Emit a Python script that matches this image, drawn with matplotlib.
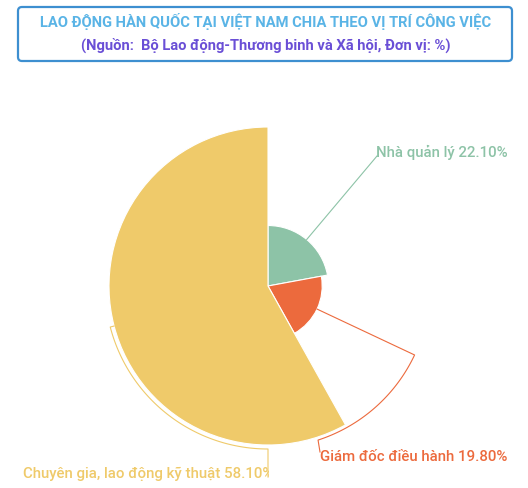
import numpy as np
import matplotlib.pyplot as plt
from matplotlib.patches import Wedge, FancyBboxPatch

plt.rcParams['font.family'] = ['Roboto', 'DejaVu Sans']

# Dữ liệu
nhan = ['Nhà quản lý', 'Giám đốc điều hành', 'Chuyên gia, lao động kỹ thuật']
gia_tri = [22.10, 19.80, 58.10]
mau = ['#8dc3a7', '#ec6a3d', '#efca6a']

W, H = 528, 489
fig = plt.figure(figsize=(W / 100, H / 100), dpi=100)
ax = fig.add_axes([0, 0, 1, 1])
ax.set_xlim(0, W)
ax.set_ylim(0, H)
ax.axis('off')


def py(y):
    # toạ độ pixel (gốc trên) -> toạ độ trục
    return H - y


# Khung tiêu đề
ax.add_patch(FancyBboxPatch((18, py(62)), 494, 54,
                            boxstyle='round,pad=0,rounding_size=4',
                            fc='white', ec='#3d8fd0', lw=1.6))
ax.text(265.5, py(22), 'LAO ĐỘNG HÀN QUỐC TẠI VIỆT NAM CHIA THEO VỊ TRÍ CÔNG VIỆC',
        color='#5ab4e6', fontsize=10.6, fontweight='bold', ha='center', va='center')
ax.text(265.5, py(45), '(Nguồn:  Bộ Lao động-Thương binh và Xã hội, Đơn vị: %)',
        color='#6a4fd6', fontsize=10.6, fontweight='bold', ha='center', va='center')

# Biểu đồ hoa hồng (bán kính tỉ lệ với giá trị)
cx, cy = 268, py(287)
R = 159
tong = sum(gia_tri)
goc = 90.0
giua = []
for v, c in zip(gia_tri, mau):
    quet = v / tong * 360
    r = v / max(gia_tri) * R
    ax.add_patch(Wedge((cx, cy), r, goc - quet, goc, fc=c, ec='white', lw=0.8))
    giua.append((goc - quet / 2, r))
    goc -= quet


def diem(a, r):
    t = np.radians(a)
    return cx + r * np.cos(t), cy + r * np.sin(t)


fs = 10.8

# Nhà quản lý: đường thẳng
a, r = giua[0]
x0, y0 = diem(a, r)
ax.plot([x0, 377], [y0, py(157)], color=mau[0], lw=0.8)
ax.text(376, py(152), f'{nhan[0]} {gia_tri[0]:.2f}%', color=mau[0],
        fontsize=fs, fontweight='medium', ha='left', va='center')

# Giám đốc điều hành: ra ngoài, chạy theo cung tròn rồi xuống
a, r = giua[1]
rr = 162
t = np.linspace(a, -72, 60)
xs = [diem(a, r)[0]] + list(cx + rr * np.cos(np.radians(t))) + [320]
ys = [diem(a, r)[1]] + list(cy + rr * np.sin(np.radians(t))) + [py(453)]
ax.plot(xs, ys, color=mau[1], lw=0.8)
ax.text(320, py(457), f'{nhan[1]} {gia_tri[1]:.2f}%', color=mau[1],
        fontsize=fs, fontweight='medium', ha='left', va='center')

# Chuyên gia: cung tròn phía ngoài rồi xuống
a, r = giua[2]
a = a % 360
rr = 163
t = np.linspace(a, 270, 80)
xs = [diem(a, r)[0]] + list(cx + rr * np.cos(np.radians(t))) + [cx]
ys = [diem(a, r)[1]] + list(cy + rr * np.sin(np.radians(t))) + [py(478)]
ax.plot(xs, ys, color=mau[2], lw=0.8)
txt = ax.text(23, py(474), f'{nhan[2]} {gia_tri[2]:.2f}%', color=mau[2],
              fontsize=fs, fontweight='medium', ha='left', va='center',
              clip_on=True)
clip = plt.Rectangle((0, 0), cx + 1, H, transform=ax.transData)
txt.set_clip_path(clip)

fig.savefig('out.png', dpi=100)
